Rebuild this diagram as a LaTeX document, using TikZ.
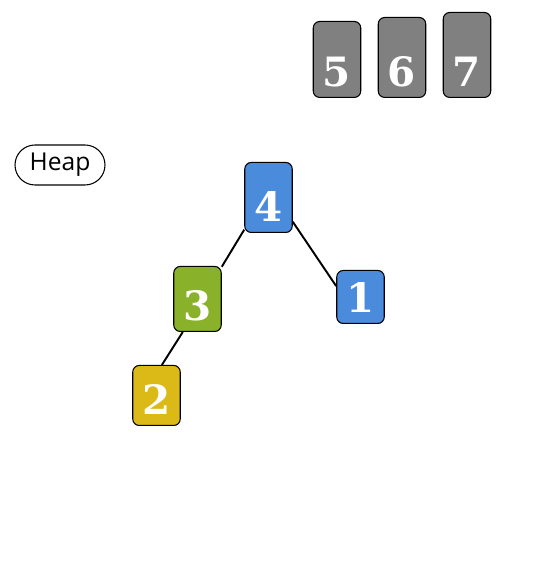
\documentclass[tikz,border=0pt]{standalone}
\usepackage{fontspec}
\usepackage{tikz}
\usetikzlibrary{positioning}
\newfontfamily\heapfont{Open Sans}
\newfontfamily\keyfont{DejaVu Serif}
\definecolor{cBlue}{RGB}{74,139,219}
\definecolor{cGreen}{RGB}{138,177,42}
\definecolor{cYellow}{RGB}{219,185,23}
\definecolor{cGray}{RGB}{128,128,128}
\tikzset{
	keybox/.style={rectangle, rounded corners=0.13cm, draw=black, line width=0.6pt, minimum width=0.95cm, inner xsep=0pt, inner ysep=0pt, text depth=0.22cm, anchor=south, text=white, font=\keyfont\bfseries\fontsize{23}{23}\selectfont},
	heapbox/.style={rectangle, rounded corners=0.4cm, draw=black, line width=0.6pt, minimum width=1.8cm, minimum height=0.8cm, font=\heapfont\fontsize{14}{14}\selectfont},
	treeedge/.style={line width=1.1pt, black},
}
\begin{document}
\begin{tikzpicture}
			\useasboundingbox (0,0) rectangle (10.7,11.26);
			% waiting keys
			\foreach \val/\xx/\hh in {5/6.74/1.30, 6/8.04/1.38, 7/9.34/1.48} {
				\node[keybox, fill=cGray, text height=\hh cm] (n\val) at (\xx,9.30) {\val};
			}
			\node[heapbox] (heap) at (1.2,7.96) {Heap};
			% heap nodes
			\node[keybox, fill=cBlue, text height=1.18cm] (n4) at (5.37,6.60) {4};
			\node[keybox, fill=cGreen, text height=1.08cm] (n3) at (3.95,4.62) {3};
			\node[keybox, fill=cBlue, text height=0.84cm] (n1) at (7.21,4.78) {1};
			\node[keybox, fill=cYellow, text height=0.98cm] (n2) at (3.13,2.74) {2};
			\draw[treeedge] (n4.233) -- (n3.53);
			\draw[treeedge] (n4.-45) -- (n1.156);
			\draw[treeedge] (n3.246) -- (n2.80);
		\end{tikzpicture}
\end{document}
